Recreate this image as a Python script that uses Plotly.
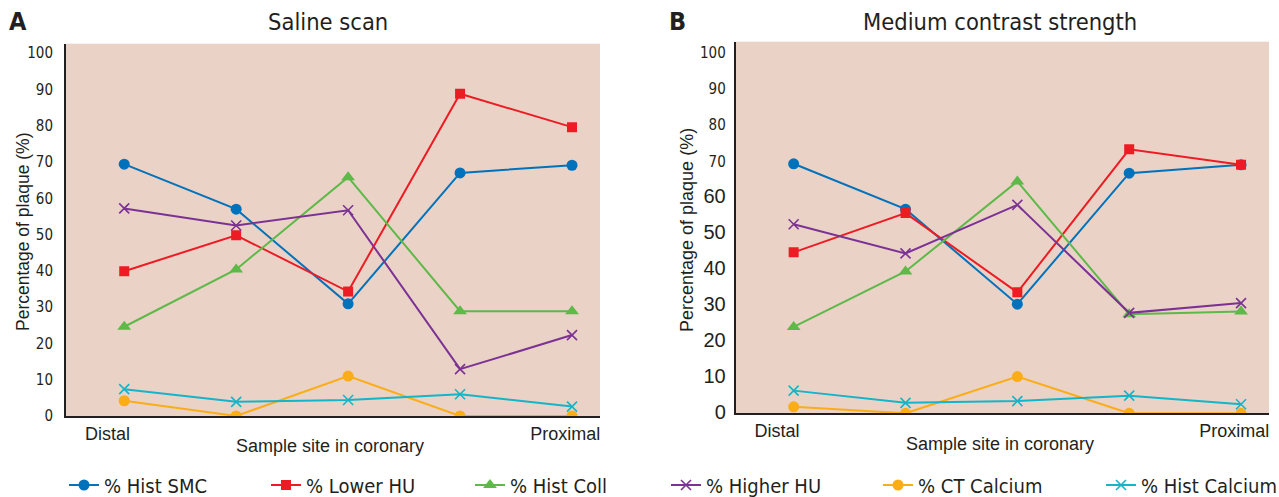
import plotly.graph_objects as go

# ---------------- data ----------------
site_index = [0, 1, 2, 3, 4]
x_tick_labels = ["Distal", "Proximal"]
x_tick_pos = [-0.15, 3.94]
y_ticks = [0, 10, 20, 30, 40, 50, 60, 70, 80, 90, 100]

series_names = ["% Hist SMC", "% Lower HU", "% Hist Coll", "% Higher HU", "% CT Calcium", "% Hist Calcium"]

saline_hist_smc = [69.4, 57.0, 30.9, 67.0, 69.1]
saline_lower_hu = [39.9, 49.8, 34.3, 88.8, 79.6]
saline_hist_coll = [24.6, 40.4, 65.8, 28.9, 28.9]
saline_higher_hu = [57.2, 52.5, 56.7, 12.9, 22.3]
saline_ct_calcium = [4.2, 0, 11.0, 0, 0]
saline_hist_calcium = [7.4, 3.9, 4.4, 6.0, 2.6]

medium_hist_smc = [69.3, 56.7, 30.3, 66.7, 69.0]
medium_lower_hu = [44.7, 55.6, 33.6, 73.3, 69.0]
medium_hist_coll = [24.0, 39.4, 64.4, 27.5, 28.3]
medium_higher_hu = [52.5, 44.4, 57.9, 27.9, 30.6]
medium_ct_calcium = [1.8, 0, 10.2, 0, 0]
medium_hist_calcium = [6.3, 2.9, 3.4, 4.9, 2.5]

saline = [saline_hist_smc, saline_lower_hu, saline_hist_coll,
          saline_higher_hu, saline_ct_calcium, saline_hist_calcium]
medium = [medium_hist_smc, medium_lower_hu, medium_hist_coll,
          medium_higher_hu, medium_ct_calcium, medium_hist_calcium]

# ---------------- styles ----------------
colors = ["#0072BC", "#ED1C24", "#5DB948", "#7B3294", "#FBAD18", "#13B5C8"]
symbols = ["circle", "square", "triangle-up", "x-thin", "circle", "x-thin"]
sizes = [11, 10, 12, 10, 11, 10]
legend_widths = [157, 159, 151, 167, 178, 140]

NARROW = "Liberation Sans Narrow, Arial Narrow, DejaVu Sans Condensed, sans-serif"
REG = "Liberation Sans, Arial, sans-serif"
TXT = "#231F20"
BG = "#EAD2C6"
W, H = 1279, 497

fig = go.Figure()

for panel, data in (("x", saline), ("x2", medium)):
    for i, vals in enumerate(data):
        marker = dict(color=colors[i], symbol=symbols[i], size=sizes[i],
                      line=dict(color=colors[i], width=1.6 if symbols[i] == "x-thin" else 0))
        fig.add_trace(go.Scatter(
            x=site_index, y=vals, mode="lines+markers",
            name=series_names[i], legendgroup=series_names[i],
            showlegend=(panel == "x"),
            legendwidth=legend_widths[i],
            line=dict(color=colors[i], width=2),
            marker=marker,
            xaxis=panel, yaxis="y" if panel == "x" else "y2",
        ))

big_b = {0, 10, 20, 30, 40, 50, 60}
ticktext_b = [
    (f'<span style="font-family:Liberation Sans;font-size:20px">{v}</span>' if v in big_b else str(v))
    for v in y_ticks
]

xaxis_common = dict(range=[-0.52, 4.25], tickvals=x_tick_pos, ticktext=x_tick_labels,
                    showgrid=False, zeroline=False, showline=True, linecolor=TXT, linewidth=2,
                    ticks="", tickfont=dict(family=REG, size=18, color=TXT), fixedrange=True,
                    automargin=False)

fig.update_layout(
    width=W, height=H,
    margin=dict(l=0, r=0, t=0, b=0, autoexpand=False),
    paper_bgcolor="white",
    plot_bgcolor=BG,
    xaxis=dict(domain=[66 / W, 600 / W], anchor="y", **xaxis_common),
    xaxis2=dict(domain=[735.5 / W, 1269 / W], anchor="y2", **xaxis_common),
    yaxis=dict(domain=[(H - 416) / H, (H - 43.7) / H], range=[0, 102.6],
               tickvals=y_ticks, ticktext=[str(v) for v in y_ticks],
               showgrid=False, zeroline=False, showline=True, linecolor=TXT, linewidth=2,
               ticks="", ticklabelstandoff=8, automargin=False,
               tickfont=dict(family=NARROW, size=15, color=TXT), anchor="x"),
    yaxis2=dict(domain=[(H - 413.3) / H, (H - 41.7) / H], range=[0, 103.2],
                tickvals=y_ticks, ticktext=ticktext_b,
                showgrid=False, zeroline=False, showline=True, linecolor=TXT, linewidth=1.5,
                ticks="", ticklabelstandoff=5, automargin=False,
                tickfont=dict(family=NARROW, size=15, color=TXT), anchor="x2"),
    legend=dict(orientation="h", x=64 / W, xanchor="left", y=12 / H, yanchor="middle",
                font=dict(family=NARROW, size=20, color=TXT), bgcolor="rgba(0,0,0,0)",
                itemwidth=30),
    showlegend=True,
)

annotations = [
    dict(text="<b>A</b>", x=18, y=22, font=dict(family=NARROW, size=25, color=TXT)),
    dict(text="<b>B</b>", x=677, y=22, font=dict(family=NARROW, size=25, color=TXT)),
    dict(text="Saline scan", x=328, y=22, font=dict(family=NARROW, size=23.5, color=TXT)),
    dict(text="Medium contrast strength", x=1000, y=22, font=dict(family=NARROW, size=23.5, color=TXT)),
    dict(text="Sample site in coronary", x=330, y=446, font=dict(family=REG, size=18, color=TXT)),
    dict(text="Sample site in coronary", x=1000, y=444, font=dict(family=REG, size=18, color=TXT)),
    dict(text="Percentage of plaque (%)", x=23, y=232, textangle=-90, font=dict(family=REG, size=17.5, color=TXT)),
    dict(text="Percentage of plaque (%)", x=687, y=230, textangle=-90, font=dict(family=REG, size=18, color=TXT)),
]
for a in annotations:
    fig.add_annotation(
        text=a["text"], x=a["x"] / W, y=1 - a["y"] / H, xref="paper", yref="paper",
        xanchor="center", yanchor="middle", showarrow=False, textangle=a.get("textangle", 0),
        font=a["font"],
    )

fig.write_html("out.html", config={"displayModeBar": False},
               post_script="document.body.style.margin='0';")
